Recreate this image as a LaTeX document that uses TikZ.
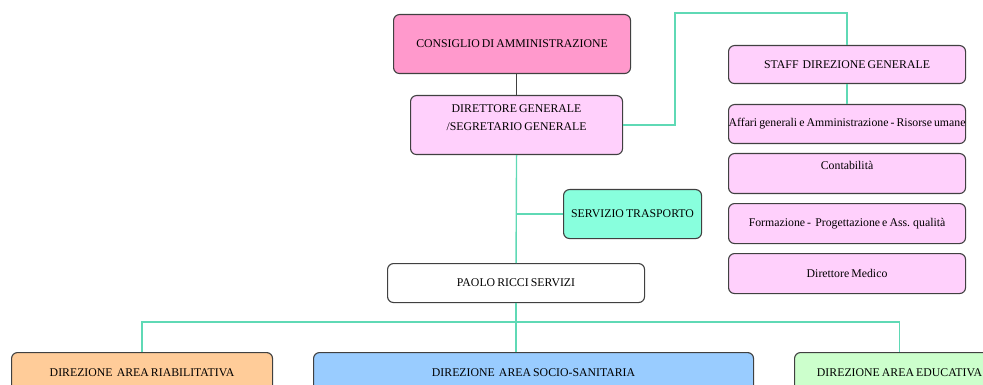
\documentclass[tikz,border=0pt]{standalone}
\usepackage{fontspec}
\setmainfont{Liberation Serif}[WordSpace=0.7]
\usetikzlibrary{calc}
\definecolor{bordc}{HTML}{404040}
\definecolor{tealc}{HTML}{5FD9B5}
\definecolor{pinkd}{HTML}{FF99CC}
\definecolor{pinkl}{HTML}{FFD0FC}
\definecolor{aquac}{HTML}{88FFDD}
\definecolor{peach}{HTML}{FFCC99}
\definecolor{bluel}{HTML}{99CCFF}
\definecolor{greenl}{HTML}{CCFFCC}
\newcommand{\fsz}{\fontsize{11.8}{18}\selectfont}
\begin{document}
\begin{tikzpicture}[x=1pt,y=-1pt,
  box/.style={draw=bordc, line width=1.1pt, rounded corners=6pt, inner sep=0pt,
    anchor=north west, font=\fsz, align=center},
  txt/.style={inner sep=0pt, font=\fsz, align=center},
  tline/.style={draw=tealc, line width=1.4pt},
  dline/.style={draw=bordc, line width=1.1pt}]
\useasboundingbox (0,0) rectangle (983,385);
\clip (0,0) rectangle (983,385);

% top column
\node[box, fill=pinkd, minimum width=237pt, minimum height=59pt] (cda) at (393,14) {CONSIGLIO DI AMMINISTRAZIONE};
\node[box, fill=pinkl, minimum width=212pt, minimum height=59pt] (dg) at (410,95) {};
\node[txt] (dgt) at ($(dg.center)+(0,-7)$) {DIRETTORE GENERALE\\/SEGRETARIO GENERALE};
\node[box, fill=aquac, minimum width=138pt, minimum height=49pt] (st) at (563,189) {SERVIZIO TRASPORTO};
\node[box, fill=white, minimum width=257pt, minimum height=39pt] (pr) at (387,263) {PAOLO RICCI SERVIZI};

% staff column
\node[box, fill=pinkl, minimum width=237pt, minimum height=38pt] (staff) at (728,45) {STAFF\ \ DIREZIONE GENERALE};
\node[box, fill=pinkl, minimum width=237pt, minimum height=39pt] (aff) at (728,104) {\makebox[200pt]{Affari generali e Amministrazione - Risorse umane}};
\node[box, fill=pinkl, minimum width=237pt, minimum height=40pt] (cont) at (728,153) {};
\node[txt] (contt) at ($(cont.north)+(0,12)$) {Contabilità};
\node[box, fill=pinkl, minimum width=237pt, minimum height=40pt] (form) at (728,203) {Formazione -\ \ Progettazione e Ass. qualità};
\node[box, fill=pinkl, minimum width=237pt, minimum height=40pt] (med) at (728,253) {Direttore Medico};

% bottom row
\node[box, fill=peach, minimum width=261pt, minimum height=40pt] (riab) at (11,352) {DIREZIONE\ \ AREA RIABILITATIVA};
\node[box, fill=bluel, minimum width=440pt, minimum height=40pt] (ss) at (313,352) {DIREZIONE\ \ AREA SOCIO-SANITARIA};
\node[box, fill=greenl, minimum width=210pt, minimum height=40pt] (edu) at (794,352) {DIREZIONE AREA EDUCATIVA};

\coordinate (up) at (675,13);
\coordinate (bus) at (517,322);

% connectors
\draw[dline] (cda.south -| dg.north) -- (dg.north);
\draw[tline] (dg.east) -| (up) -| (staff.north);
\draw[tline] (staff.south) -- (aff.north);
\draw[tline] (dg.south) -- (pr.north);
\draw[tline] (dg.south |- st.west) -- (st.west);
\draw[tline] (pr.south) -- (pr.south |- ss.north);
\draw[tline] (riab.north) |- (bus) -| (edu.north);
\end{tikzpicture}
\end{document}
